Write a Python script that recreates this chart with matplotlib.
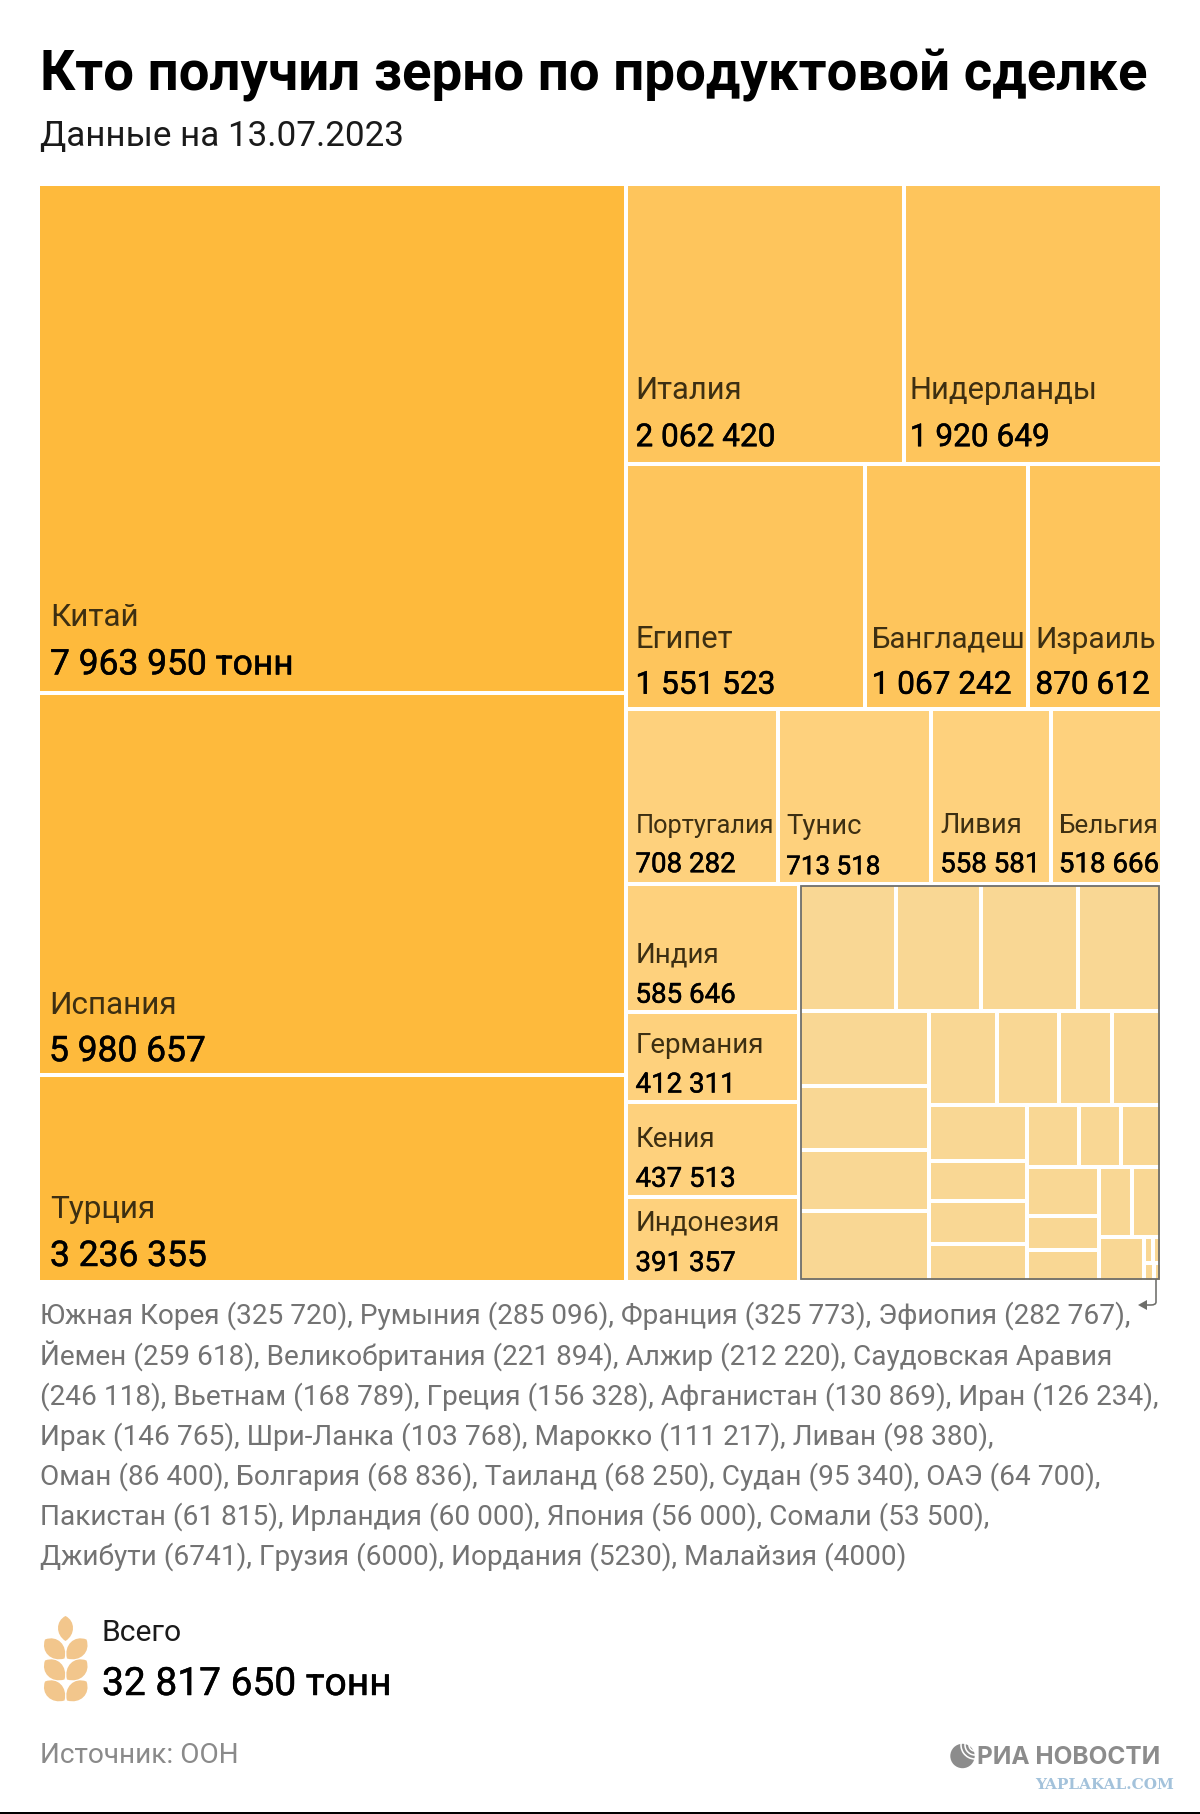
"""
plot.py
-------
Treemap of grain shipments under the food deal (RIA Novosti style).
All cells are laid out from the tonnage values, nothing is placed by hand.
"""

import matplotlib
matplotlib.use("Agg")
import matplotlib.pyplot as plt
import matplotlib.patheffects as pe
from matplotlib.patches import Rectangle, PathPatch, Wedge, Circle
from matplotlib.path import Path

plt.rcParams["font.family"] = ["Roboto", "DejaVu Sans"]

# --------------------------------------------------------------------------- #
#  Data
# --------------------------------------------------------------------------- #
COUNTRIES = [
    "Китай", "Испания", "Турция", "Италия", "Нидерланды", "Египет", "Бангладеш",
    "Израиль", "Португалия", "Тунис", "Ливия", "Бельгия", "Индия", "Германия",
    "Кения", "Индонезия", "Южная Корея", "Румыния", "Франция", "Эфиопия", "Йемен",
    "Великобритания", "Алжир", "Саудовская Аравия", "Вьетнам", "Греция",
    "Афганистан", "Иран", "Ирак", "Шри-Ланка", "Марокко", "Ливан", "Оман",
    "Болгария", "Таиланд", "Судан", "ОАЭ", "Пакистан", "Ирландия", "Япония",
    "Сомали", "Джибути", "Грузия", "Иордания", "Малайзия",
]
TONNES = [
    7963950, 5980657, 3236355, 2062420, 1920649, 1551523, 1067242,
    870612, 708282, 713518, 558581, 518666, 585646, 412311,
    437513, 391357, 325720, 285096, 325773, 282767, 259618,
    221894, 212220, 246118, 168789, 156328,
    130869, 126234, 146765, 103768, 111217, 98380, 86400,
    68836, 68250, 95340, 64700, 61815, 60000, 56000,
    53500, 6741, 6000, 5230, 4000,
]
VALUES = dict(zip(COUNTRIES, TONNES))

TOP_3 = ["Китай", "Испания", "Турция"]
ROW_1 = ["Италия", "Нидерланды"]
ROW_2 = ["Египет", "Бангладеш", "Израиль"]
ROW_3 = ["Португалия", "Тунис", "Ливия", "Бельгия"]
COL_4 = ["Индия", "Германия", "Кения", "Индонезия"]

# the unlabelled block; nesting flips direction at every level
OTHERS_TREE = [
    ["Южная Корея", "Румыния", "Франция", "Эфиопия"],
    [
        ["Йемен", "Великобритания", "Алжир", "Саудовская Аравия"],
        [
            ["Вьетнам", "Греция", "Афганистан", "Иран"],
            [
                ["Ирак", "Шри-Ланка", "Марокко", "Ливан"],
                [
                    ["Оман", "Болгария", "Таиланд"],
                    [
                        ["Судан", "ОАЭ", "Пакистан"],
                        [
                            ["Ирландия", "Япония"],
                            ["Сомали", [["Джибути", "Грузия"], ["Иордания", "Малайзия"]]],
                        ],
                    ],
                ],
            ],
        ],
    ],
]
TREE = [TOP_3, [ROW_1, ROW_2, ROW_3, [COL_4, OTHERS_TREE]]]

NOTE_LINES = [
    "Южная Корея (325 720), Румыния (285 096), Франция (325 773), Эфиопия (282 767),",
    "Йемен (259 618), Великобритания (221 894), Алжир (212 220), Саудовская Аравия",
    "(246 118), Вьетнам (168 789), Греция (156 328), Афганистан (130 869), Иран (126 234),",
    "Ирак (146 765), Шри-Ланка (103 768), Марокко (111 217), Ливан (98 380),",
    "Оман (86 400), Болгария (68 836), Таиланд (68 250), Судан (95 340), ОАЭ (64 700),",
    "Пакистан (61 815), Ирландия (60 000), Япония (56 000), Сомали (53 500),",
    "Джибути (6741), Грузия (6000), Иордания (5230), Малайзия (4000)",
]

TITLE = "Кто получил зерно по продуктовой сделке"
SUBTITLE = "Данные на 13.07.2023"
TOTAL = 32817650

# --------------------------------------------------------------------------- #
#  Style
# --------------------------------------------------------------------------- #
W, H = 1200, 1814
PX = 0.72  # points per pixel at dpi 100

COLOR_TOP = "#FEBA3C"
COLOR_MID = "#FEC55C"
COLOR_LOW = "#FED17D"
COLOR_OTHER = "#F9D794"
NAME_COLOR = "#3D2F12"
NOTE_COLOR = "#737373"
WHEAT_COLOR = "#F2C68C"
LOGO_GREY = "#8C8C8C"

# offsets are from the cell's bottom-left corner:
# x pad, value baseline, name baseline, name size, value size (all px)
STYLE_BIG = (10, 15, 63, 31.5, 35.4)
STYLE_MID = (7, 14, 60, 31, 31.6)
STYLE_LOW = (7, 10, 50, 27.5, 27.7)
STYLE_COL = (7, 8, 47, 27.7, 27.7)

# fine tuning per label: dx, name dy, value dy (px)
NUDGE = {
    "Китай": (0, -3.5, -3.5), "Испания": (-1, 2, 1), "Турция": (0, -1, -1),
    "Италия": (0, -4.5, -3.5), "Нидерланды": (-3, -4.5, -3.5),
    "Египет": (0, -1, -1), "Бангладеш": (-2, -1, -1), "Израиль": (-2, -1, -1),
    "Португалия": (0, -1, -2), "Тунис": (-1, 0, 0), "Ливия": (0, -1, -2), "Бельгия": (-1, -1, -2),
    "Индия": (0, -2, -1), "Германия": (0, -2, -1),
    "Кения": (0, -3, -2), "Индонезия": (0, -4.5, -3),
}
NAME_SIZE = {"Португалия": 25.4, "Бельгия": 26, "Бангладеш": 29.4, "Израиль": 30}
VALUE_SIZE = {"Тунис": 26}

# Roboto ships regular and bold only, a thin stroke stands in for medium
MEDIUM = [pe.withStroke(linewidth=0.35, foreground="black")]


def total(node):
    if isinstance(node, str):
        return VALUES[node]
    return sum(total(n) for n in node)


def layout(node, x, y, w, h, horizontal=True):
    """Slice-and-dice: each level splits along the other axis, by tonnage."""
    if isinstance(node, str):
        return {node: (x, y, w, h)}
    cells = {}
    whole = total(node)
    for child in node:
        share = total(child) / whole
        if horizontal:
            cells.update(layout(child, x, y, w * share, h, False))
            x += w * share
        else:
            cells.update(layout(child, x, y, w, h * share, True))
            y += h * share
    return cells


def flatten(node):
    if isinstance(node, str):
        return [node]
    return [leaf for n in node for leaf in flatten(n)]


def fmt(value):
    return f"{value:,}".replace(",", " ")


def grain(ax, p0, p1, bulge):
    """Pointed wheat grain between two tips."""
    dx, dy = p1[0] - p0[0], p1[1] - p0[1]
    length = (dx ** 2 + dy ** 2) ** 0.5
    nx, ny = -dy / length * bulge, dx / length * bulge
    verts = [
        p0,
        (p0[0] + 0.2 * dx + nx, p0[1] + 0.2 * dy + ny),
        (p0[0] + 0.75 * dx + nx, p0[1] + 0.75 * dy + ny),
        p1,
        (p0[0] + 0.75 * dx - nx, p0[1] + 0.75 * dy - ny),
        (p0[0] + 0.2 * dx - nx, p0[1] + 0.2 * dy - ny),
        p0,
    ]
    codes = [Path.MOVETO] + [Path.CURVE4] * 6
    ax.add_patch(PathPatch(Path(verts, codes), facecolor=WHEAT_COLOR, edgecolor="none"))


fig = plt.figure(figsize=(W / 100, H / 100), dpi=100, facecolor="white")
ax = fig.add_axes([0, 0, 1, 1])
ax.set_xlim(0, W)
ax.set_ylim(H, 0)
ax.axis("off")

# --- heading ---
ax.text(40, 90, TITLE, fontsize=54.6 * PX, fontweight="bold", color="black", va="baseline")
ax.text(40, 146, SUBTITLE, fontsize=35 * PX, color="#1A1A1A", va="baseline")

# --- treemap ---
GAP = 4
cells = layout(TREE, 40 - GAP / 2, 186 - GAP / 2, 1120 + GAP, 1094 + GAP)

colors = {}
colors.update({c: COLOR_TOP for c in TOP_3})
colors.update({c: COLOR_MID for c in ROW_1 + ROW_2})
colors.update({c: COLOR_LOW for c in ROW_3 + COL_4})

for name, (x, y, w, h) in cells.items():
    ax.add_patch(Rectangle((x, y), w, h, facecolor=colors.get(name, COLOR_OTHER),
                           edgecolor="white", linewidth=GAP * PX))

styles = [(TOP_3, STYLE_BIG), (ROW_1 + ROW_2, STYLE_MID), (ROW_3, STYLE_LOW), (COL_4, STYLE_COL)]
for group, (pad, val_off, name_off, name_size, val_size) in styles:
    for name in group:
        x, y, w, h = cells[name]
        left, bottom = x + GAP / 2 + pad, y + h
        ndx, ndy, vdy = NUDGE.get(name, (0, 0, 0))
        value_text = fmt(VALUES[name])
        if name == "Китай":
            value_text += " тонн"
        ax.text(left + ndx, bottom - name_off + ndy, name,
                fontsize=NAME_SIZE.get(name, name_size) * PX,
                color=NAME_COLOR, va="baseline")
        ax.text(left + ndx, bottom - val_off + vdy, value_text,
                fontsize=VALUE_SIZE.get(name, val_size) * PX,
                color="black", va="baseline", path_effects=MEDIUM)

# grey frame round the unlabelled block, plus its hook arrow
boxes = [cells[n] for n in flatten(OTHERS_TREE)]
bx0 = min(b[0] for b in boxes) + GAP / 2
by0 = min(b[1] for b in boxes) + GAP / 2
bx1 = max(b[0] + b[2] for b in boxes) - GAP / 2 - 1
by1 = max(b[1] + b[3] for b in boxes) - GAP / 2 - 1
ax.add_patch(Rectangle((bx0, by0), bx1 - bx0, by1 - by0, facecolor="none",
                       edgecolor="#6E6E6A", linewidth=1.8 * PX))

hook = Path(
    [(bx1 - 3, by1), (bx1 - 3, by1 + 23), (bx1 - 3, by1 + 26), (bx1 - 8, by1 + 26), (bx1 - 14, by1 + 26)],
    [Path.MOVETO, Path.LINETO, Path.CURVE3, Path.CURVE3, Path.LINETO],
)
ax.add_patch(PathPatch(hook, facecolor="none", edgecolor="#6E6E6A", linewidth=1.6 * PX))
ax.fill([bx1 - 21, bx1 - 12, bx1 - 12], [by1 + 26, by1 + 21, by1 + 31], color="#6E6E6A", linewidth=0)

# --- footnote list ---
for i, line in enumerate(NOTE_LINES):
    ax.text(40, 1324 + i * 40.1, line, fontsize=28 * PX, color=NOTE_COLOR, va="baseline")

# --- wheat icon and total ---
grain(ax, (65.5, 1616), (65.5, 1641), 10)
for row_y in (1639.5, 1660.5, 1681.5):
    grain(ax, (45, row_y), (64.5, row_y + 19), 12)
    grain(ax, (86.5, row_y), (67, row_y + 19), 12)

ax.text(102, 1641, "Всего", fontsize=30 * PX, color="#1A1A1A", va="baseline")
ax.text(102, 1695, f"{fmt(TOTAL)} тонн", fontsize=38.9 * PX, color="black",
        va="baseline", path_effects=MEDIUM)

# --- source and logos ---
ax.text(40, 1763, "Источник: ООН", fontsize=28 * PX, color="#8A8A8A", va="baseline")
ax.text(1160.5, 1764, "РИА НОВОСТИ", fontsize=24.4 * PX, family="Inter", fontweight="bold",
        color=LOGO_GREY, ha="right", va="baseline")
ax.add_patch(Circle((962.5, 1756), 12.2, facecolor=LOGO_GREY, edgecolor="none"))
for r in (6, 10, 14):
    ax.add_patch(Wedge((975, 1745), r + 0.8, 90, 200, width=1.6, facecolor="white", edgecolor="none"))
ax.text(1174, 1789, "YAPLAKAL.COM", fontsize=15.2 * PX, fontweight="bold", family="DejaVu Serif",
        color="#A3C2DB", ha="right", va="baseline")

ax.plot([0, W], [1813, 1813], color="black", linewidth=2 * PX, solid_capstyle="butt")

fig.savefig("out.png", dpi=100)
plt.close(fig)
